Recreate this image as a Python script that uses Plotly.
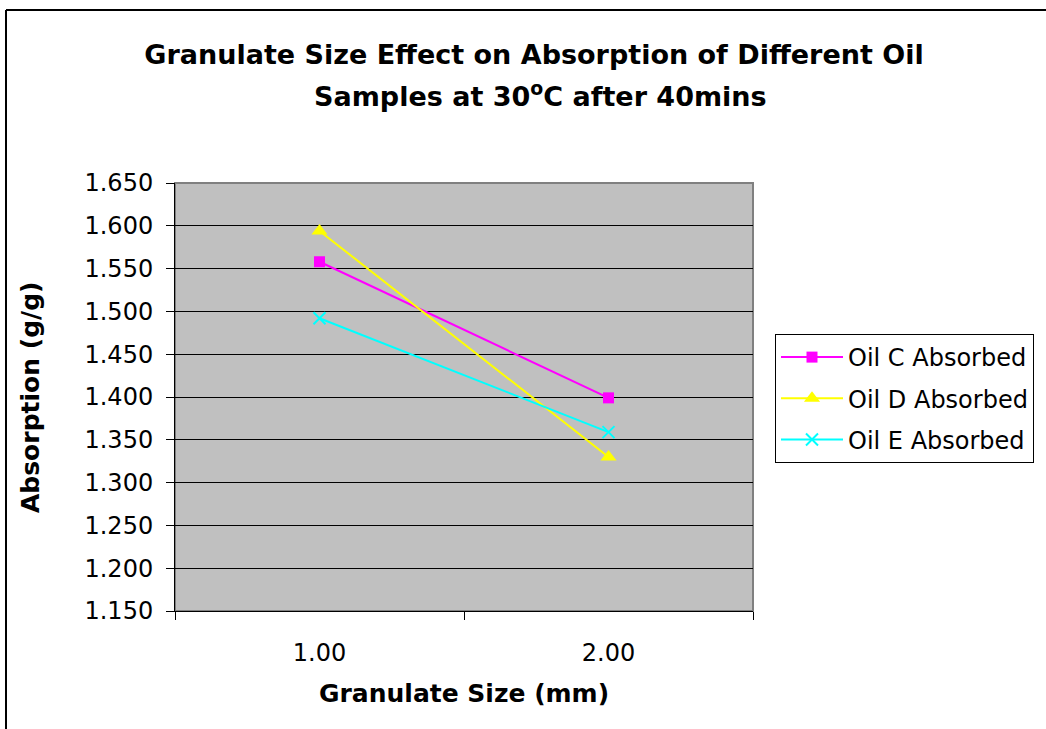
import plotly.graph_objects as go

sizes = ["1.00", "2.00"]
oil_c = [1.558, 1.399]
oil_d = [1.594, 1.330]
oil_e = [1.492, 1.359]
y_ticks = [1.15, 1.20, 1.25, 1.30, 1.35, 1.40, 1.45, 1.50, 1.55, 1.60, 1.65]

W, H = 1046, 729
L, R, T, B = 175, 293, 183, 118
pw, ph = W - L - R, H - T - B

def px(x):
    return (x - L) / pw

def py(y):
    return (H - B - y) / ph

FONT = "DejaVu Sans, Liberation Sans, Arial, sans-serif"

fig = go.Figure()
fig.add_trace(go.Scatter(x=sizes, y=oil_c, name="Oil C Absorbed", mode="lines+markers",
                         line=dict(color="#FF00FF", width=2),
                         marker=dict(symbol="square", size=11, color="#FF00FF"),
                         legendgroup="c"))
fig.add_trace(go.Scatter(x=sizes, y=oil_d, name="Oil D Absorbed", mode="lines+markers",
                         line=dict(color="#FFFF00", width=2),
                         marker=dict(symbol="triangle-up", size=14, color="#FFFF00"),
                         legendgroup="d"))
fig.add_trace(go.Scatter(x=sizes, y=oil_e, name="Oil E Absorbed", mode="lines+markers",
                         line=dict(color="#00FFFF", width=2),
                         marker=dict(symbol="x-thin", size=12, color="#00FFFF",
                                     line=dict(color="#00FFFF", width=2)),
                         legendgroup="e"))

fig.update_layout(
    width=W, height=H,
    margin=dict(l=L, r=R, t=T, b=B),
    paper_bgcolor="white",
    plot_bgcolor="#C0C0C0",
    font=dict(family=FONT, color="black", size=24),
    title=dict(text="<b>Granulate Size Effect on Absorption of Different Oil</b>",
               x=534 / W, xanchor="center", y=1 - 55 / H, yanchor="middle",
               font=dict(size=27, family=FONT, color="black")),
    showlegend=True,
    legend=dict(x=px(775), y=py(334), xanchor="left", yanchor="top",
                bordercolor="black", borderwidth=1, bgcolor="white",
                font=dict(size=24, family=FONT), tracegroupgap=7,
                itemwidth=62),
    xaxis=dict(type="category", range=[-0.5, 1.5], tickson="boundaries",
               ticks="outside", ticklen=8, tickcolor="black", tickwidth=1,
               showline=True, linecolor="black", linewidth=1,
               showgrid=False, zeroline=False, ticklabelstandoff=20,
               tickfont=dict(size=24)),
    yaxis=dict(range=[1.15, 1.65], tickvals=y_ticks, tickformat=".3f",
               ticks="outside", ticklen=8, tickcolor="black", tickwidth=1,
               showline=True, linecolor="black", linewidth=1,
               showgrid=True, gridcolor="black", gridwidth=1, zeroline=False,
               ticklabelstandoff=8, tickfont=dict(size=24)),
    annotations=[
        dict(text="<b>Samples at 30<sup>o</sup>C after 40mins</b>", xref="paper", yref="paper",
             x=px(540), y=py(95), showarrow=False,
             xanchor="center", yanchor="middle", font=dict(size=27, family=FONT)),
        dict(text="<b>Absorption (g/g)</b>", xref="paper", yref="paper",
             x=px(30), y=py(397), textangle=-90, showarrow=False,
             xanchor="center", yanchor="middle", font=dict(size=25, family=FONT)),
        dict(text="<b>Granulate Size (mm)</b>", xref="paper", yref="paper",
             x=px(464), y=py(693), showarrow=False,
             xanchor="center", yanchor="middle", font=dict(size=25, family=FONT)),
    ],
    shapes=[
        dict(type="rect", xref="paper", yref="paper", x0=0, y0=0, x1=1, y1=1,
             line=dict(color="#808080", width=2), layer="below"),
        dict(type="line", xref="paper", yref="paper", x0=px(6), y0=py(10), x1=px(1100), y1=py(10),
             line=dict(color="black", width=2)),
        dict(type="line", xref="paper", yref="paper", x0=px(6), y0=py(10), x1=px(6), y1=py(800),
             line=dict(color="black", width=2)),
    ],
)

fig.write_html("out.html")
